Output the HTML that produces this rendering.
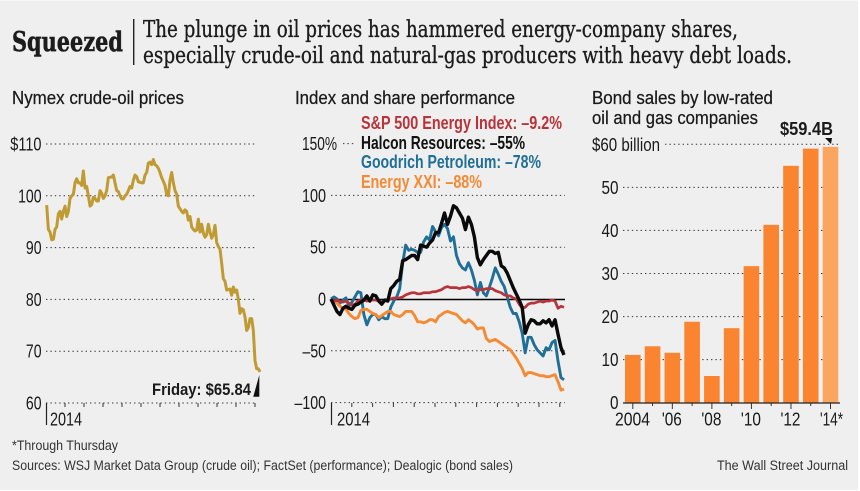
<!DOCTYPE html>
<html>
<head>
<meta charset="utf-8">
<style>
html,body{margin:0;padding:0;background:#fff;}
svg{display:block;}
text{font-family:"Liberation Sans",sans-serif;fill:#1a1a1a;}
.title{font-size:18px;stroke:#1a1a1a;stroke-width:0.25px;}
.foot{font-size:13.5px;fill:#333;}
.leg{font-size:18px;font-weight:bold;}
.serif{font-family:"DejaVu Serif","Liberation Serif",serif;fill:#1c1c1c;}
.sub{stroke:#1c1c1c;stroke-width:0.35px;}
.head{stroke:#1c1c1c;stroke-width:0.5px;}
</style>
</head>
<body>
<svg id="chart" xmlns="http://www.w3.org/2000/svg" width="860" height="491" viewBox="0 0 860 491">
  <rect x="0" y="0.5" width="858" height="489.5" fill="#efefef"/>
  <text class="serif head" x="12" y="51" font-size="27" font-weight="bold" textLength="111" lengthAdjust="spacingAndGlyphs">Squeezed</text>
  <rect x="133" y="19" width="1.4" height="46" fill="#222"/>
  <text class="serif sub" x="143" y="37" font-size="23" textLength="595" lengthAdjust="spacingAndGlyphs">The plunge in oil prices has hammered energy-company shares,</text>
  <text class="serif sub" x="143" y="63" font-size="23" textLength="649" lengthAdjust="spacingAndGlyphs">especially crude-oil and natural-gas producers with heavy debt loads.</text>

  <text class="title" x="12" y="104" textLength="172" lengthAdjust="spacingAndGlyphs">Nymex crude-oil prices</text>
  <text class="title" x="295" y="104" textLength="220" lengthAdjust="spacingAndGlyphs">Index and share performance</text>
  <text class="title" x="592" y="104" textLength="181" lengthAdjust="spacingAndGlyphs">Bond sales by low-rated</text>
  <text class="title" x="592" y="124" textLength="166" lengthAdjust="spacingAndGlyphs">oil and gas companies</text>

  <g id="oil"></g>
  <g id="perf"></g>
  <g id="bond"></g>

  <text class="leg" x="361" y="129" style="fill:#b9333a" textLength="201" lengthAdjust="spacingAndGlyphs">S&amp;P 500 Energy Index: –9.2%</text>
  <text class="leg" x="361" y="149" style="fill:#111" textLength="164" lengthAdjust="spacingAndGlyphs">Halcon Resources: –55%</text>
  <text class="leg" x="361" y="168" style="fill:#1f6f97" textLength="180" lengthAdjust="spacingAndGlyphs">Goodrich Petroleum: –78%</text>
  <text class="leg" x="361" y="188" style="fill:#f58a35" textLength="121" lengthAdjust="spacingAndGlyphs">Energy XXI: –88%</text>

  <text x="152" y="395" font-size="17" font-weight="bold" textLength="99" lengthAdjust="spacingAndGlyphs">Friday: $65.84</text>
  <polygon points="259.3,375 259.3,396.7 253.3,396.7" fill="#111"/>
  <text x="780" y="135" font-size="18" font-weight="bold" textLength="53" lengthAdjust="spacingAndGlyphs">$59.4B</text>
  <polygon points="825,138 832,138 831,144" fill="#111"/>

  <text class="foot" x="12" y="450" textLength="106" lengthAdjust="spacingAndGlyphs">*Through Thursday</text>
  <text class="foot" x="12" y="470" textLength="501" lengthAdjust="spacingAndGlyphs">Sources: WSJ Market Data Group (crude oil); FactSet (performance); Dealogic (bond sales)</text>
  <text class="foot" x="717" y="470" textLength="131" lengthAdjust="spacingAndGlyphs">The Wall Street Journal</text>
</svg>
<script>
const oilPrices = [98.2,93.5,93,91.5,91.6,93.5,94,96.5,97,95.5,97,98,96,97,99.5,100,100.3,102.5,103.3,102.5,102.5,102,104.8,101.5,101.8,100,98,98.3,99.7,99.5,99,99,101,100.5,99.5,100,101,103.5,103.6,103.6,104,102.5,101,100.8,100,99.4,99.4,100,100.3,101,101.8,101.5,103,104,103.7,102.7,102.6,102.5,102.5,104,104.5,106.3,106.5,106,107,106,105.8,105.3,104.5,103.5,102.8,102,100.2,100,103,104.5,102.5,101,100.3,98,97.5,97,96.7,97.3,97,95.3,96,94,93.5,93.2,93.4,95.5,93,94.5,92.8,92,92.5,94.5,93,91.8,92.5,94.3,91,90.2,89.7,87,84,83.5,81.8,81.9,82,80.8,82.4,81.4,81.8,80,77.3,78.2,78,76.6,74,74.6,76.3,76.3,74,68.2,66.6,66.6,66];
const oilTickValues = [110,100,90,80,70,60];
const oilTickLabels = ["$110","100","90","80","70","60"];
const monthLabel = "2014";

const halcon = [0,-6,-12,-15,-9,-7,-9,-10,-6,-5,-3,-1,3,-2,4,3,-2,-5,-1,-2,10,13,17,19,37,38,40,42,42,38,52,51,50,54,57,64,64,73,83,72,80,90,88,83,78,67,79,72,60,40,33,38,42,46,46,44,45,32,30,25,18,11,5,-1,-8,-33,-25,-20,-21,-24,-24,-21,-23,-20,-26,-20,-34,-47,-54];
const goodrich = [0,2,0,-4,-1,1,-7,-3,2,7,6,-15,-25,-18,-15,-15,-20,-17,-19,-19,-8,-2,2,10,35,52,47,48,47,45,45,55,60,57,70,65,61,69,72,68,56,60,42,34,30,28,35,28,18,4,16,6,3,11,20,30,24,17,12,2,-8,-14,-14,-22,-33,-52,-37,-37,-44,-49,-52,-55,-47,-49,-42,-40,-60,-76,-78];
const spEnergy = [0,-2,-1,-2,-3,-2,-4,-6,-5,-2,-1,-1,-2,-1,-1,-1,-2,-3,-2,-1,0,1,1,1,2,4,5,6,6,5,5,6,6,6,7,7,8,9,11,12,11,11,11,10,11,11,12,11,9,8,9,9,10,10,10,8,7,6,4,3,3,1,0,-5,-9,-8,-5,-4,-4,-3,-2,-3,-2,-2,-1,-2,-9,-7,-8];
const energyXXI = [0,-2,-4,-7,-9,-10,-14,-17,-19,-18,-11,-10,-10,-12,-14,-15,-18,-16,-14,-12,-12,-15,-16,-17,-15,-12,-12,-12,-16,-22,-22,-23,-22,-20,-20,-22,-17,-15,-13,-12,-13,-14,-15,-18,-21,-23,-20,-22,-25,-29,-28,-28,-38,-41,-40,-39,-41,-43,-45,-47,-49,-53,-57,-62,-67,-74,-71,-71,-72,-73,-74,-74,-75,-75,-74,-73,-80,-88,-87];
const perfTickValues = [150,100,50,0,-50,-100];
const perfTickLabels = ["150%","100","50","0","–50","–100"];

const bondYears = ["2004","2005","2006","2007","2008","2009","2010","2011","2012","2013","2014"];
const bondSales = [11.1,13.1,11.6,18.8,6.2,17.3,31.7,41.3,55,59,59.4];
const bondTickValues = [60,50,40,30,20,10,0];
const bondTickLabels = ["$60 billion","50","40","30","20","10","0"];
const bondYearLabels = ["2004","'06","'08","'10","'12","'14*"];

const NS = "http://www.w3.org/2000/svg";
function mk(parent, tag, attrs, txt) {
  const e = document.createElementNS(NS, tag);
  for (const k in attrs) e.setAttribute(k, attrs[k]);
  if (txt !== undefined) e.textContent = txt;
  parent.appendChild(e);
  return e;
}
function linePath(values, xf, yf) {
  return values.map((v, i) => (i ? "L" : "M") + xf(i).toFixed(2) + " " + yf(v).toFixed(2)).join("");
}
const DOT = "1.4 3";
const labelWidthPerChar = 7.8;
const TICK_FONT = 18.5;

/* ---------- oil ---------- */
(function () {
  const g = document.getElementById("oil");
  const y = v => 403 - (v - 60) * (403 - 144) / 50;
  const x = i => 46.7 + i * (260 - 46.7) / (oilPrices.length - 1);
  oilTickValues.forEach((v, i) => {
    const l = mk(g, "line", {x1: 46, x2: 256, y1: y(v), y2: y(v), stroke: "#333", "stroke-width": 1, "stroke-dasharray": DOT});
    
    
    const s = oilTickLabels[i];
    const w = s.length * labelWidthPerChar;
    const t = mk(g, "text", {x: 41.5 - w, y: y(v) + 6.5, "font-size": TICK_FONT, textLength: w, lengthAdjust: "spacingAndGlyphs"}, s);
    
    
  });
  for (let m = 1; m <= 11; m++) {
    const tx = 46 + m * 19;
    const k = mk(g, "line", {x1: tx, x2: tx, y1: 403, y2: 407, stroke: "#333", "stroke-width": 1});
    
    
  }
  const b = mk(g, "line", {x1: 46.5, x2: 46.5, y1: 403, y2: 425, stroke: "#222", "stroke-width": 1.2});
  
  
  const yl = mk(g, "text", {x: 50, y: 425.5, "font-size": TICK_FONT, textLength: 32, lengthAdjust: "spacingAndGlyphs"}, monthLabel);
  
  
  const p = mk(g, "path", {d: linePath(oilPrices, x, y), fill: "none", stroke: "#c09a32", "stroke-width": 3, "stroke-linejoin": "round"});
  
  
})();

/* ---------- performance ---------- */
(function () {
  const g = document.getElementById("perf");
  const y = v => 299 - v * (403 - 144) / 250;
  const x = i => 331 + i * 233 / (halcon.length - 1);
  perfTickValues.forEach((v, i) => {
    const s = perfTickLabels[i];
    const isTop = v === 150;
    if (v !== 0) {
      const l = mk(g, "line", {x1: isTop ? 343 : 331, x2: isTop ? 354 : 565, y1: y(v), y2: y(v), stroke: "#333", "stroke-width": 1, "stroke-dasharray": DOT});
      
      
    }
    const w = isTop ? 35 : s.length * 8 + (s.charAt(0) === "–" ? -0.5 : 0);
    const right = isTop ? 337 : 326;
    const t = mk(g, "text", {x: right - w, y: y(v) + 6.5, "font-size": TICK_FONT, textLength: w, lengthAdjust: "spacingAndGlyphs"}, s);
    
    
  });
  for (let m = 1; m <= 11; m++) {
    const tx = 331 + m * 20.8;
    const k = mk(g, "line", {x1: tx, x2: tx, y1: 403, y2: 407, stroke: "#333", "stroke-width": 1});
    
    
  }
  const b = mk(g, "line", {x1: 331.5, x2: 331.5, y1: 403, y2: 425, stroke: "#222", "stroke-width": 1.2});
  
  
  const yl = mk(g, "text", {x: 337, y: 425.5, "font-size": TICK_FONT, textLength: 33, lengthAdjust: "spacingAndGlyphs"}, monthLabel);
  
  
  const z = mk(g, "line", {x1: 331, x2: 565, y1: 299.5, y2: 299.5, stroke: "#000", "stroke-width": 1.4});
  
  
  const pb = mk(g, "path", {d: linePath(goodrich, x, y), fill: "none", stroke: "#1f6f97", "stroke-width": 2.9, "stroke-linejoin": "round"});
  
  
  const po = mk(g, "path", {d: linePath(energyXXI, x, y), fill: "none", stroke: "#f58a35", "stroke-width": 2.9, "stroke-linejoin": "round"});
  
  
  const pr = mk(g, "path", {d: linePath(spEnergy, x, y), fill: "none", stroke: "#b9333a", "stroke-width": 2.7, "stroke-linejoin": "round"});
  
  
  const pk = mk(g, "path", {d: linePath(halcon, x, y), fill: "none", stroke: "#0a0a0a", "stroke-width": 3.4, "stroke-linejoin": "round"});
  
  
})();

/* ---------- bonds ---------- */
(function () {
  const g = document.getElementById("bond");
  const y = v => 402.7 - v * (402.7 - 144.3) / 60;
  const cx = i => 632.8 + i * 19.77;
  bondTickValues.forEach((v, i) => {
    const s = bondTickLabels[i];
    if (v !== 0) {
      const l = mk(g, "line", {x1: v === 60 ? 665 : 623, x2: 838, y1: y(v), y2: y(v), stroke: "#333", "stroke-width": 1, "stroke-dasharray": DOT});
      
      
    }
    const w = v === 60 ? 68 : s.length * 8.5;
    const left = v === 60 ? 592 : 618.5 - w;
    const t = mk(g, "text", {x: left, y: y(v) + 6.5, "font-size": TICK_FONT, textLength: w, lengthAdjust: "spacingAndGlyphs"}, s);
    
    
  });
  bondSales.forEach((v, i) => {
    const r = mk(g, "rect", {x: cx(i) - 7.8, y: y(v), width: 15.6, height: y(0) - y(v), fill: i === bondSales.length - 1 ? "#fba660" : "#fa842f"});
    
    
    const even = i % 2 === 0;
    const k = mk(g, "line", {x1: cx(i), x2: cx(i), y1: 403, y2: even ? 409 : 406, stroke: "#333", "stroke-width": 1});
    
    
  });
  const a = mk(g, "line", {x1: 623, x2: 840, y1: 403, y2: 403, stroke: "#222", "stroke-width": 1.2});
  
  
  bondYearLabels.forEach((s, i) => {
    const w = i === 0 ? 35 : (i === 5 ? 23 : 20);
    const left = i === 0 ? 615 : (i === 5 ? 820 : cx(i * 2) - 10.5);
    const t = mk(g, "text", {x: left, y: 425.5, "font-size": TICK_FONT, textLength: w, lengthAdjust: "spacingAndGlyphs"}, s);
    
    
  });
})();
</script>
</body>
</html>
